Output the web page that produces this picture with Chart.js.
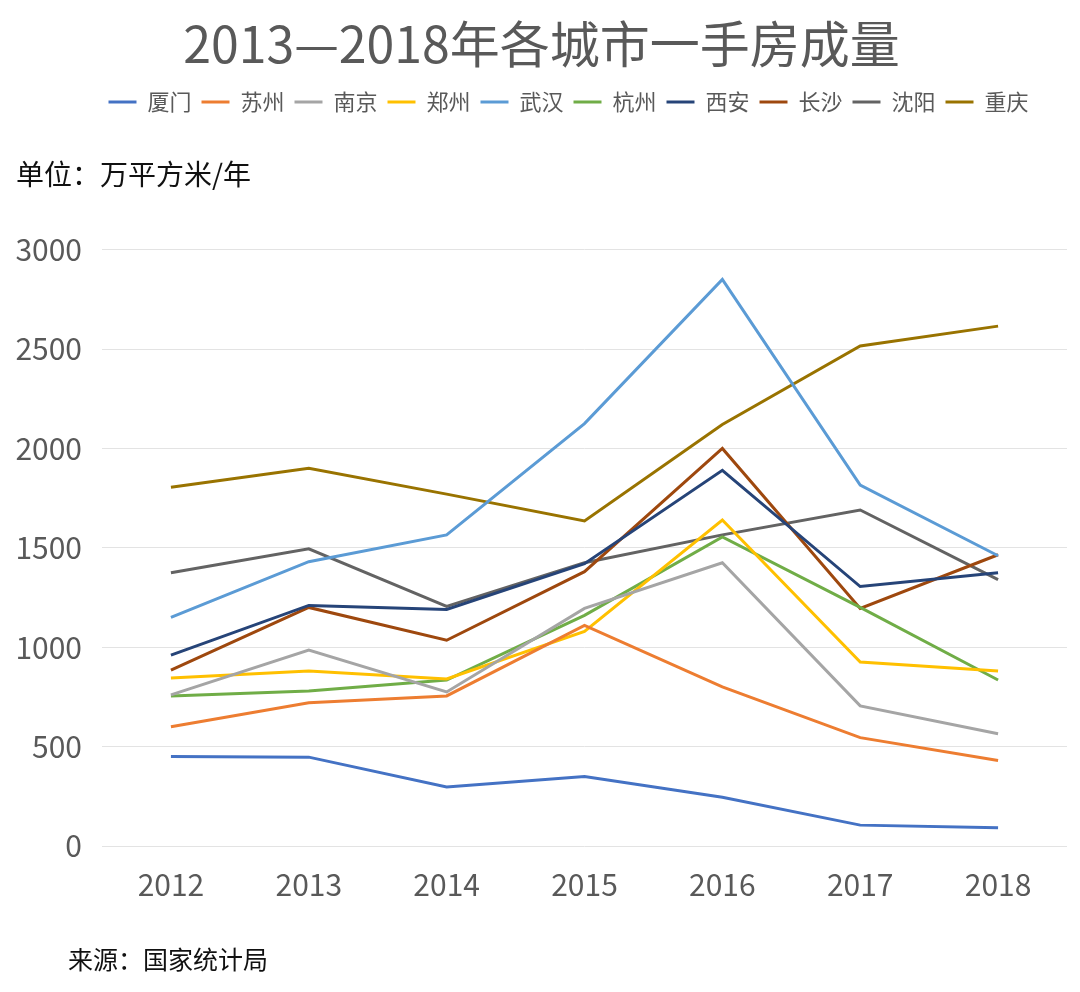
<!DOCTYPE html>
<html>
<head>
<meta charset="utf-8">
<script src="https://cdn.jsdelivr.net/npm/chart.js@4"></script>
<style>
  body { margin: 0; background: #fff; }
  #wrap { position: relative; width: 1080px; height: 992px; }
  #source {
    position: absolute; left: 68px; top: 940px;
    font: 25px "Noto Sans CJK SC"; color: #111;
  }
</style>
</head>
<body>
<div id="wrap">
  <canvas id="myChart" width="1080" height="992"></canvas>
  <div id="source">来源：国家统计局</div>
</div>
<script>
const years = ["2012", "2013", "2014", "2015", "2016", "2017", "2018"];

const xiamen    = [450, 447, 297, 350, 245, 105, 92];
const suzhou    = [600, 720, 755, 1110, 800, 545, 430];
const nanjing   = [760, 985, 775, 1195, 1425, 705, 565];
const zhengzhou = [845, 880, 840, 1080, 1640, 925, 880];
const wuhan     = [1150, 1430, 1565, 2125, 2850, 1815, 1460];
const hangzhou  = [755, 780, 835, 1160, 1555, 1200, 835];
const xian      = [960, 1210, 1190, 1420, 1890, 1305, 1375];
const changsha  = [885, 1200, 1035, 1380, 2000, 1195, 1465];
const shenyang  = [1375, 1495, 1205, 1425, 1565, 1690, 1340];
const chongqing = [1805, 1900, 1770, 1635, 2120, 2515, 2615];

const FONT = "'Noto Sans CJK SC'";
const GREY = "#595959";

function series(label, data, color) {
    return {
        label: label,
        data: data,
        borderColor: color,
        backgroundColor: color,
        borderWidth: 3,
        pointRadius: 0,
        tension: 0
    };
}

// the legend in the original sits a bit right of centre
const legendShift = {
    id: 'legendShift',
    afterLayout(chart) {
        chart.legend.left += 54;
    }
};

const ctx = document.getElementById('myChart').getContext('2d');

var cityChart = new Chart(ctx, {
    type: 'line',
    data: {
        labels: years,
        datasets: [
            series("厦门", xiamen, "#4472C4"),
            series("苏州", suzhou, "#ED7D31"),
            series("南京", nanjing, "#A5A5A5"),
            series("郑州", zhengzhou, "#FFC000"),
            series("武汉", wuhan, "#5B9BD5"),
            series("杭州", hangzhou, "#70AD47"),
            series("西安", xian, "#264478"),
            series("长沙", changsha, "#9E480E"),
            series("沈阳", shenyang, "#636363"),
            series("重庆", chongqing, "#997300")
        ]
    },
    plugins: [legendShift],
    options: {
        responsive: false,
        animation: false,
        layout: { padding: { left: 16, right: 13, top: 0, bottom: 76 } },
        plugins: {
            title: {
                display: true,
                text: "2013—2018年各城市一手房成量",
                color: GREY,
                font: { family: FONT, size: 50, weight: 'normal' },
                padding: { top: 14, bottom: 7 }
            },
            subtitle: {
                display: true,
                text: "单位：万平方米/年",
                align: 'start',
                weight: 500,
                color: "#111",
                font: { family: FONT, size: 28, weight: 'normal' },
                padding: { top: 35, bottom: 58 }
            },
            legend: {
                display: true,
                labels: {
                    color: GREY,
                    font: { family: FONT, size: 22 },
                    usePointStyle: true,
                    pointStyle: 'line',
                    pointStyleWidth: 28,
                    padding: 10
                }
            },
            tooltip: { enabled: false }
        },
        scales: {
            x: {
                offset: true,
                grid: { display: false },
                border: { display: false },
                ticks: {
                    color: GREY,
                    padding: 13,
                    font: { family: FONT, size: 30 }
                }
            },
            y: {
                min: 0,
                max: 3000,
                afterFit: function (scale) { scale.width = 86; },
                grid: { color: "#e3e3e3", lineWidth: 1, drawTicks: false },
                border: { display: false },
                ticks: {
                    stepSize: 500,
                    color: GREY,
                    padding: 20,
                    font: { family: FONT, size: 30 },
                    callback: function (value) { return String(value); }
                }
            }
        }
    }
})
</script>
</body>
</html>
